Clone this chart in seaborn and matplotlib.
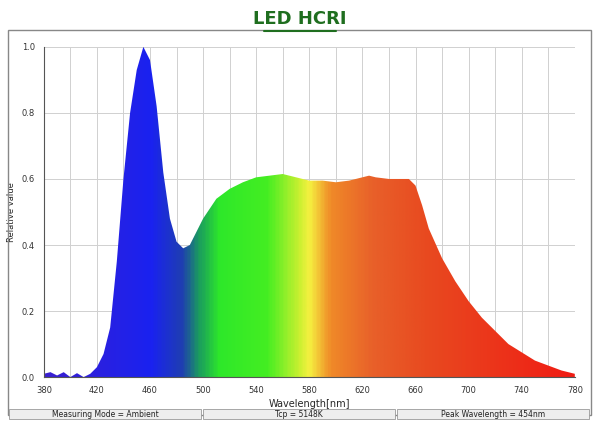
import numpy as np
import matplotlib
matplotlib.use("Agg")
import matplotlib.pyplot as plt
import seaborn as sns
from matplotlib.colors import LinearSegmentedColormap
from matplotlib.patches import Rectangle

wavelength = [380, 385, 390, 395, 400, 405, 410, 415, 420, 425, 430, 435, 440, 445, 450, 455,
              460, 465, 470, 475, 480, 485, 490, 495, 500, 510, 520, 530, 540, 550, 560, 570,
              580, 590, 600, 610, 620, 625, 630, 640, 650, 655, 660, 665, 670, 680, 690, 700,
              710, 720, 730, 740, 750, 760, 770, 780]
relative = [0.01, 0.015, 0.005, 0.015, 0.0, 0.012, 0.0, 0.01, 0.03, 0.07, 0.15, 0.35, 0.6, 0.8,
            0.93, 1.0, 0.96, 0.82, 0.62, 0.48, 0.41, 0.39, 0.40, 0.44, 0.48, 0.54, 0.57, 0.59,
            0.605, 0.61, 0.615, 0.605, 0.595, 0.595, 0.59, 0.595, 0.605, 0.61, 0.605, 0.6, 0.6,
            0.6, 0.58, 0.52, 0.45, 0.36, 0.29, 0.23, 0.18, 0.14, 0.10, 0.075, 0.05, 0.035, 0.02, 0.01]
x_ticks = [380, 420, 460, 500, 540, 580, 620, 660, 700, 740, 780]
y_ticks = [0.0, 0.2, 0.4, 0.6, 0.8, 1.0]
status = ["Measuring Mode = Ambient", "Tcp = 5148K", "Peak Wavelength = 454nm"]

sns.set_style("whitegrid")
plt.rcParams['font.family'] = ['DejaVu Sans']

fig = plt.figure(figsize=(6, 4.3), dpi=100)
ax = fig.add_axes([0.073, 0.123, 0.885, 0.768])

# spectral colour gradient
spec = LinearSegmentedColormap.from_list("spec", [
    (0.0, "#3a1fd0"), (0.2, "#1a22f0"), (0.26, "#1f3fb0"), (0.29, "#1a9a60"),
    (0.33, "#2ee82a"), (0.42, "#44ee22"), (0.48, "#c8f030"), (0.5, "#f5f040"),
    (0.54, "#f08a28"), (0.62, "#e8602a"), (0.72, "#e84a20"), (1.0, "#f01c14")])

poly = ax.fill_between(wavelength, relative, 0, color="none")
img = ax.imshow(np.linspace(0, 1, 400)[None, :], cmap=spec, aspect="auto",
                extent=[380, 780, 0, 1.0], zorder=2)
img.set_clip_path(poly.get_paths()[0], transform=ax.transData)

ax.set_xlim(380, 780)
ax.set_ylim(0, 1.0)
ax.set_xticks(x_ticks)
ax.set_yticks(y_ticks)
ax.set_xticks(np.arange(380, 781, 20), minor=True)
ax.grid(True, which="both", color="#d0d0d0", linewidth=0.7)
ax.tick_params(labelsize=6, colors="#333333", length=3)
ax.set_xticklabels([str(v) for v in x_ticks])
ax.set_yticklabels([f"{v:.1f}" for v in y_ticks])
ax.set_xlabel("Wavelength[nm]", fontsize=7, labelpad=3)
ax.set_ylabel("Relative value", fontsize=6)
for s in ax.spines.values():
    s.set_color("#555555")
    s.set_linewidth(0.8)
ax.spines["top"].set_visible(False)
ax.spines["right"].set_visible(False)

# outer frame and status bar
fig.patches.append(Rectangle((0.013, 0.035), 0.972, 0.895, transform=fig.transFigure,
                             fill=False, edgecolor="#888888", linewidth=1))
for i, txt in enumerate(status):
    x0 = 0.015 + i * 0.323
    fig.patches.append(Rectangle((x0, 0.025), 0.32, 0.025, transform=fig.transFigure,
                                 facecolor="#eeeeee", edgecolor="#999999", linewidth=0.6))
    fig.text(x0 + 0.16, 0.037, txt, fontsize=5.5, ha="center", va="center", color="#222222")

fig.text(0.5, 0.955, "LED HCRI", fontsize=13, fontweight="bold", color="#1f6e1f",
         ha="center", va="center")
fig.lines.append(plt.Line2D([0.44, 0.56], [0.928, 0.928], transform=fig.transFigure,
                            color="#1f6e1f", linewidth=1.5))

fig.savefig("out.png", dpi=100)
